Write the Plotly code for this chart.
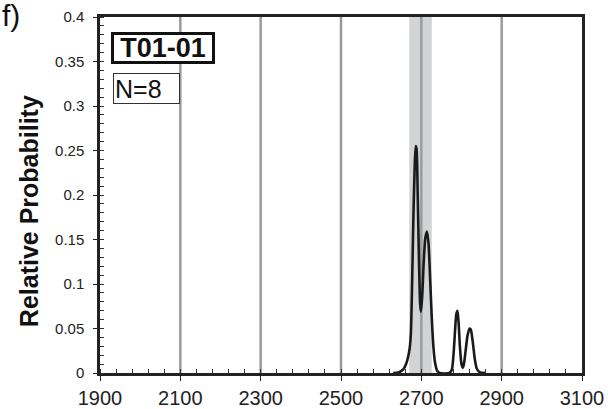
import plotly.graph_objects as go

# Probability density curve
ages = [2630, 2645, 2655, 2662, 2667, 2671, 2674, 2677, 2680, 2683, 2686, 2688,
        2691, 2694, 2697, 2699, 2702, 2706, 2710, 2714, 2718, 2722, 2726, 2730,
        2734, 2739, 2745, 2770, 2776, 2780, 2784, 2787, 2790, 2793, 2796, 2800,
        2803, 2806, 2810, 2815, 2820, 2823, 2828, 2833, 2838, 2845, 2860]
prob = [0.000, 0.001, 0.004, 0.010, 0.018, 0.028, 0.045, 0.100, 0.170, 0.225, 0.255, 0.252,
        0.200, 0.130, 0.078, 0.069, 0.085, 0.125, 0.152, 0.159, 0.145, 0.105, 0.062, 0.030,
        0.012, 0.003, 0.000, 0.000, 0.004, 0.020, 0.048, 0.066, 0.070, 0.055, 0.030, 0.010,
        0.006, 0.010, 0.024, 0.042, 0.050, 0.049, 0.035, 0.016, 0.005, 0.001, 0.000]

band = [2670, 2726]          # shaded age band
x_ticks = [1900, 2100, 2300, 2500, 2700, 2900, 3100]
y_ticks = [0, 0.05, 0.1, 0.15, 0.2, 0.25, 0.3, 0.35, 0.4]
y_labels = ["0", "0.05", "0.1", "0.15", "0.2", "0.25", "0.3", "0.35", "0.4"]
grid_x = [2100, 2300, 2500, 2700, 2900]
panel = "f)"
sample = "T01-01"
n_label = "N=8"

FONT = "Liberation Sans, Arial, sans-serif"

fig = go.Figure()

shapes = [dict(type="rect", xref="x", yref="paper", x0=band[0], x1=band[1], y0=0, y1=1,
               fillcolor="rgb(210,211,213)", line=dict(width=0), layer="below")]
for g in grid_x:
    shapes.append(dict(type="line", xref="x", yref="paper", x0=g, x1=g, y0=0, y1=1,
                       line=dict(color="rgb(155,155,155)", width=2.5), layer="below"))

fig.add_trace(go.Scatter(x=ages, y=prob, mode="lines",
                         line=dict(color="#1a1a1a", width=2.6, shape="spline", smoothing=0.7),
                         hoverinfo="skip", showlegend=False))

fig.update_layout(
    width=608, height=409,
    margin=dict(l=100, r=26, t=17, b=36, autoexpand=False),
    paper_bgcolor="white", plot_bgcolor="white",
    font=dict(family=FONT, color="#222"),
    shapes=shapes,
    showlegend=False,
    xaxis=dict(range=[1900, 3100], tickvals=x_ticks, ticktext=[str(v) for v in x_ticks],
               automargin=False,
               showgrid=False, zeroline=False, showline=True, linecolor="#222", linewidth=2.5,
               mirror=True, ticks="outside", ticklen=5, tickwidth=1, tickcolor="#222",
               tickfont=dict(size=20, family=FONT, color="#222"), ticklabelstandoff=0,
               minor=dict(dtick=40, tick0=1900, ticks="inside", ticklen=4, tickcolor="#333", tickwidth=1, showgrid=False)),
    yaxis=dict(range=[0, 0.4], tickvals=y_ticks, ticktext=y_labels,
               automargin=False,
               showgrid=False, zeroline=False, showline=True, linecolor="#222", linewidth=2.5,
               mirror=True, ticks="outside", ticklen=4, tickwidth=1, tickcolor="#222",
               tickfont=dict(size=15, family=FONT, color="#222"), ticklabelstandoff=6,
               minor=dict(dtick=0.01, tick0=0, ticks="inside", ticklen=4, tickcolor="#333", tickwidth=1, showgrid=False)),
    annotations=[
        dict(text=panel, xref="paper", yref="paper", x=-0.2075, y=1.055, xanchor="left", yanchor="top",
             showarrow=False, font=dict(size=30, family=FONT, color="#111")),
        dict(text="<b>Relative Probability</b>", xref="paper", yref="paper", x=-0.147, y=0.455,
             xanchor="center", yanchor="middle", textangle=-90, showarrow=False,
             font=dict(size=25, family=FONT, color="#111")),
        dict(text="<b>" + sample + "</b>", xref="paper", yref="paper", x=0.0228, y=0.958,
             xanchor="left", yanchor="top", showarrow=False, align="center",
             bordercolor="#111", borderwidth=3, borderpad=1, bgcolor="white",
             width=96, height=24,
             font=dict(size=27, family=FONT, color="#111")),
        dict(text=n_label, xref="paper", yref="paper", x=0.027, y=0.843,
             xanchor="left", yanchor="top", showarrow=False, align="left",
             bordercolor="#333", borderwidth=1, borderpad=1, bgcolor="white",
             width=63, height=27,
             font=dict(size=25, family=FONT, color="#111")),
    ],
)

fig.write_html("out.html")
